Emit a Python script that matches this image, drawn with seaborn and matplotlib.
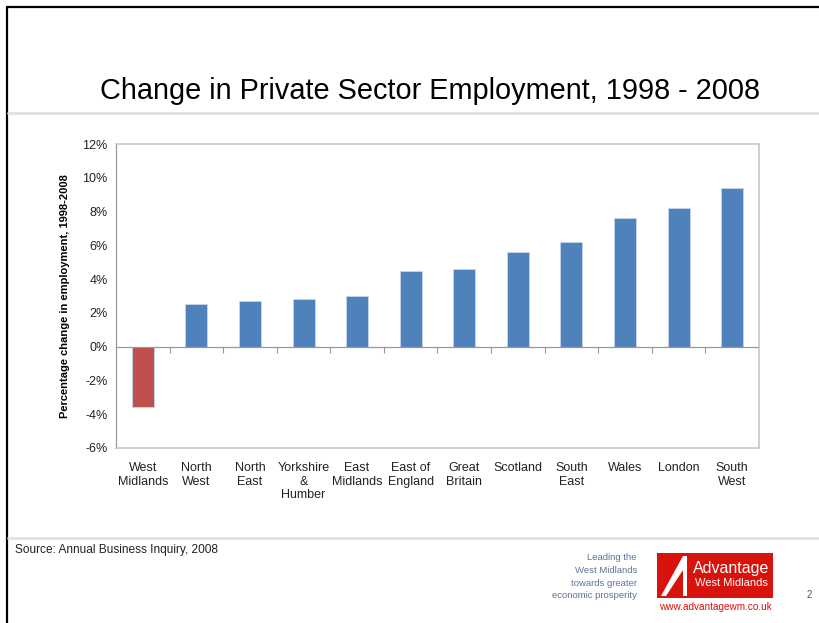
import matplotlib
matplotlib.use("Agg")
import matplotlib.pyplot as plt
import seaborn as sns
import pandas as pd
import numpy as np
from matplotlib.lines import Line2D
from matplotlib.patches import Rectangle, Polygon
from matplotlib.ticker import FuncFormatter

categories = ["West\nMidlands", "North\nWest", "North\nEast", "Yorkshire\n&\nHumber",
              "East\nMidlands", "East of\nEngland", "Great\nBritain", "Scotland",
              "South\nEast", "Wales", "London", "South\nWest"]
values = [-3.6, 2.5, 2.7, 2.8, 3.0, 4.5, 4.6, 5.6, 6.2, 7.6, 8.2, 9.4]
bar_colors = ["#C0504D"] + ["#4F81BD"] * 11
yticks = [-6, -4, -2, 0, 2, 4, 6, 8, 10, 12]

sns.set_theme(style="white")
plt.rcParams['font.family'] = ['Liberation Sans', 'DejaVu Sans']

W, H = 820, 623
fig = plt.figure(figsize=(W / 100, H / 100), dpi=100)
fig.patch.set_facecolor("white")

def fx(px):
    return px / W

def fy(py):
    return 1 - py / H

ax = fig.add_axes([fx(116), fy(448), fx(759) - fx(116), fy(144) - fy(448)])

df = pd.DataFrame({"region": categories, "value": values})
sns.barplot(data=df, x="region", y="value", hue="region", palette=bar_colors,
            legend=False, width=0.41, ax=ax, saturation=1,
            edgecolor="#c8d6ea", linewidth=0.6)

ax.set_xlim(-0.5, len(categories) - 0.5)
ax.set_ylim(-6, 12)
ax.set_yticks(yticks)
ax.yaxis.set_major_formatter(FuncFormatter(lambda v, p: f"{v:.0f}%"))
ax.tick_params(axis="y", direction="out", length=4, width=0.8, color="#999999",
               labelsize=9, pad=2, labelcolor="#222222")
ax.tick_params(axis="x", length=0, labelsize=9, pad=10, labelcolor="#222222")
ax.set_xlabel("")
ax.set_ylabel("Percentage change in employment, 1998-2008", fontsize=8,
              fontweight="bold", labelpad=9, color="#000000")
for s in ax.spines.values():
    s.set_visible(True)
    s.set_color("#c8c8c8")
    s.set_linewidth(1.2)
ax.spines["left"].set_color("#999999")
ax.spines["left"].set_linewidth(0.9)

# zero axis line with category-boundary ticks
ax.axhline(0, color="#999999", linewidth=0.9, zorder=3)
bounds = np.arange(len(categories) + 1) - 0.5
ax.plot(bounds[1:-1], np.zeros(len(bounds) - 2), linestyle="none", marker=3,
        markersize=4, markeredgewidth=0.8, color="#999999", zorder=3, clip_on=False)

# page frame
fig.add_artist(Line2D([fx(7), fx(7)], [fy(7), 0], color="black", lw=1.6))
fig.add_artist(Line2D([fx(7), 1], [fy(7), fy(7)], color="black", lw=1.6))
fig.add_artist(Line2D([fx(8), 1], [fy(113), fy(113)], color="#e2e2e2", lw=2))
fig.add_artist(Line2D([fx(8), 1], [fy(538), fy(538)], color="#e2e2e2", lw=2))

fig.text(fx(430), fy(91), "Change in Private Sector Employment, 1998 - 2008",
         ha="center", va="center", fontsize=20.8, color="black")

fig.text(fx(15), fy(550), "Source: Annual Business Inquiry, 2008", ha="left",
         va="center", fontsize=8.6, color="#222222")

tag = ["Leading the", "West Midlands", "towards greater", "economic prosperity"]
for i, t in enumerate(tag):
    fig.text(fx(637), fy(558 + i * 12.5), t, ha="right", va="center",
             fontsize=6.8, color="#5b7591")

# logo
fig.add_artist(Rectangle((fx(657), fy(598)), fx(773) - fx(657), fy(553) - fy(598),
                         transform=fig.transFigure, facecolor="#D8120C",
                         edgecolor="none"))
fig.add_artist(Polygon([[fx(661), fy(596)], [fx(683), fy(556)], [fx(687), fy(556)],
                        [fx(687), fy(596)], [fx(683), fy(596)], [fx(683), fy(570)],
                        [fx(666), fy(596)]],
                       closed=True, transform=fig.transFigure, facecolor="white",
                       edgecolor="none"))
fig.text(fx(731), fy(568), "Advantage", ha="center", va="center", fontsize=11.5,
         color="white")
fig.text(fx(731), fy(583), "West Midlands", ha="center", va="center", fontsize=8,
         color="white")
fig.text(fx(715), fy(607), "www.advantagewm.co.uk", ha="center", va="center",
         fontsize=7.2, color="#D8120C")
fig.text(fx(809), fy(595), "2", ha="center", va="center", fontsize=7,
         color="#555555")

fig.savefig("out.png", dpi=100, facecolor="white")
